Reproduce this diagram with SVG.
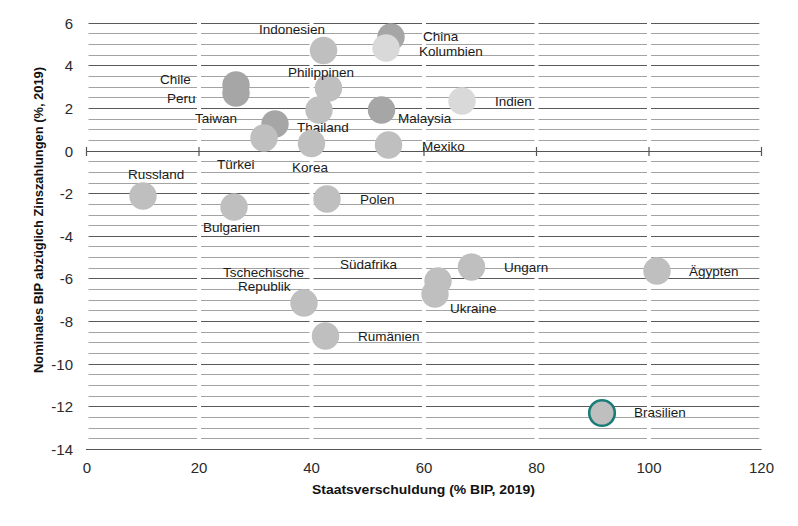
<svg xmlns="http://www.w3.org/2000/svg" width="798" height="526" viewBox="0 0 798 526">
<style>
.minor{stroke:#a3a3a3;stroke-width:1;fill:none;stroke-dasharray:108.5 4}
.major{stroke:#5a5a5a;stroke-width:1;fill:none;stroke-dasharray:108.5 4}
.axis{stroke:#555;stroke-width:1.2;fill:none}
.tl{font-family:"Liberation Sans",Arial,sans-serif;font-size:15px;fill:#2a2a2a}
.lbl{font-family:"Liberation Sans",Arial,sans-serif;font-size:13.5px;fill:#1a1a1a}
.title{font-family:"Liberation Sans",Arial,sans-serif;font-size:13px;font-weight:bold;fill:#111}
.g{fill:#bfbfbf}
.d{fill:#a6a6a6}
.l{fill:#d9d9d9}
.br{fill:#bfbfbf;stroke:#1b7d78;stroke-width:2.6}
</style>
<rect width="798" height="526" fill="#ffffff"/>
<g id="grid">
<path class="minor" d="M88.5 33.5H759.3M88.5 44.5H759.3M88.5 55.5H759.3M88.5 76.5H759.3M88.5 87.5H759.3M88.5 97.5H759.3M88.5 119.5H759.3M88.5 129.5H759.3M88.5 140.5H759.3M88.5 161.5H759.3M88.5 172.5H759.3M88.5 183.5H759.3M88.5 204.5H759.3M88.5 215.5H759.3M88.5 225.5H759.3M88.5 246.5H759.3M88.5 257.5H759.3M88.5 268.5H759.3M88.5 289.5H759.3M88.5 300.5H759.3M88.5 310.5H759.3M88.5 332.5H759.3M88.5 342.5H759.3M88.5 353.5H759.3M88.5 374.5H759.3M88.5 385.5H759.3M88.5 396.5H759.3M88.5 417.5H759.3M88.5 428.5H759.3M88.5 438.5H759.3"/>
<path class="major" d="M88.5 23.5H759.3M88.5 65.5H759.3M88.5 108.5H759.3M88.5 193.5H759.3M88.5 236.5H759.3M88.5 278.5H759.3M88.5 321.5H759.3M88.5 364.5H759.3M88.5 406.5H759.3"/>
</g>
<g id="axes">
<path class="axis" d="M86 151.5H761.5M86 449.5H761.5"/>
<path class="axis" d="M86.5 147V156M199 147V156M311.5 147V156M424 147V156M536.5 147V156M649 147V156M761.5 147V156"/>
</g>
<g id="y-ticks" class="tl" text-anchor="end">
<text x="73" y="29">6</text>
<text x="73" y="71">4</text>
<text x="73" y="114">2</text>
<text x="73" y="157">0</text>
<text x="73" y="199">-2</text>
<text x="73" y="242">-4</text>
<text x="73" y="284">-6</text>
<text x="73" y="327">-8</text>
<text x="73" y="370">-10</text>
<text x="73" y="412">-12</text>
<text x="73" y="455">-14</text>
</g>
<g id="x-ticks" class="tl" text-anchor="middle">
<text x="87" y="473">0</text>
<text x="199" y="473">20</text>
<text x="311.5" y="473">40</text>
<text x="424" y="473">60</text>
<text x="536.5" y="473">80</text>
<text x="649" y="473">100</text>
<text x="761.5" y="473">120</text>
</g>
<text id="x-title" class="title" x="423.5" y="494" text-anchor="middle" textLength="223" lengthAdjust="spacingAndGlyphs">Staatsverschuldung (% BIP, 2019)</text>
<text id="y-title" class="title" transform="translate(43,220) rotate(-90)" text-anchor="middle" textLength="306" lengthAdjust="spacingAndGlyphs">Nominales BIP abzüglich Zinszahlungen (%, 2019)</text>
<g id="points">
<g id="chile"><circle class="d" cx="236" cy="85" r="13.7"/><text class="lbl" x="160" y="84">Chile</text></g>
<g id="peru"><circle class="d" cx="236" cy="93" r="13.7"/><text class="lbl" x="167" y="103">Peru</text></g>
<g id="taiwan"><circle class="d" cx="275" cy="124" r="13.7"/><text class="lbl" x="195" y="123">Taiwan</text></g>
<g id="tuerkei"><circle class="g" cx="264" cy="138" r="13.7"/><text class="lbl" x="217" y="169">Türkei</text></g>
<g id="china"><circle class="d" cx="391" cy="37" r="13.7"/><text class="lbl" x="423" y="40.5">China</text></g>
<g id="kolumbien"><circle class="l" cx="386" cy="48" r="13.7"/><text class="lbl" x="419" y="56">Kolumbien</text></g>
<g id="indonesien"><circle class="g" cx="323.5" cy="50.5" r="13.7"/><text class="lbl" x="259" y="34">Indonesien</text></g>
<g id="philippinen"><circle class="g" cx="328.5" cy="88" r="13.7"/><text class="lbl" x="288" y="77">Philippinen</text></g>
<g id="thailand"><circle class="g" cx="319" cy="110" r="13.7"/><text class="lbl" x="297" y="132">Thailand</text></g>
<g id="korea"><circle class="g" cx="311.5" cy="143.5" r="13.7"/><text class="lbl" x="292" y="172">Korea</text></g>
<g id="malaysia"><circle class="d" cx="381.5" cy="110" r="13.7"/><text class="lbl" x="398" y="123">Malaysia</text></g>
<g id="mexiko"><circle class="g" cx="388.5" cy="145" r="13.7"/><text class="lbl" x="422" y="151">Mexiko</text></g>
<g id="indien"><circle class="l" cx="462" cy="101" r="13.7"/><text class="lbl" x="495" y="106">Indien</text></g>
<g id="russland"><circle class="g" cx="143" cy="196" r="13.7"/><text class="lbl" x="128" y="179">Russland</text></g>
<g id="bulgarien"><circle class="g" cx="234" cy="207" r="13.7"/><text class="lbl" x="203" y="232">Bulgarien</text></g>
<g id="polen"><circle class="g" cx="327" cy="199" r="13.7"/><text class="lbl" x="360" y="204">Polen</text></g>
<g id="tschechien"><circle class="g" cx="304" cy="303" r="13.7"/><text class="lbl" x="223" y="277">Tschechische</text><text class="lbl" x="238" y="291">Republik</text></g>
<g id="rumaenien"><circle class="g" cx="325.5" cy="336" r="13.7"/><text class="lbl" x="358" y="341">Rumänien</text></g>
<g id="suedafrika"><circle class="g" cx="438" cy="281" r="13.7"/><text class="lbl" x="340" y="269">Südafrika</text></g>
<g id="ukraine"><circle class="g" cx="435" cy="294" r="13.7"/><text class="lbl" x="450" y="313">Ukraine</text></g>
<g id="ungarn"><circle class="g" cx="471.5" cy="267" r="13.7"/><text class="lbl" x="504" y="272">Ungarn</text></g>
<g id="aegypten"><circle class="g" cx="657" cy="271" r="13.7"/><text class="lbl" x="689" y="276">Ägypten</text></g>
<g id="brasilien"><circle class="br" cx="602" cy="413" r="12.8"/><text class="lbl" x="634" y="417">Brasilien</text></g>
</g>
</svg>
